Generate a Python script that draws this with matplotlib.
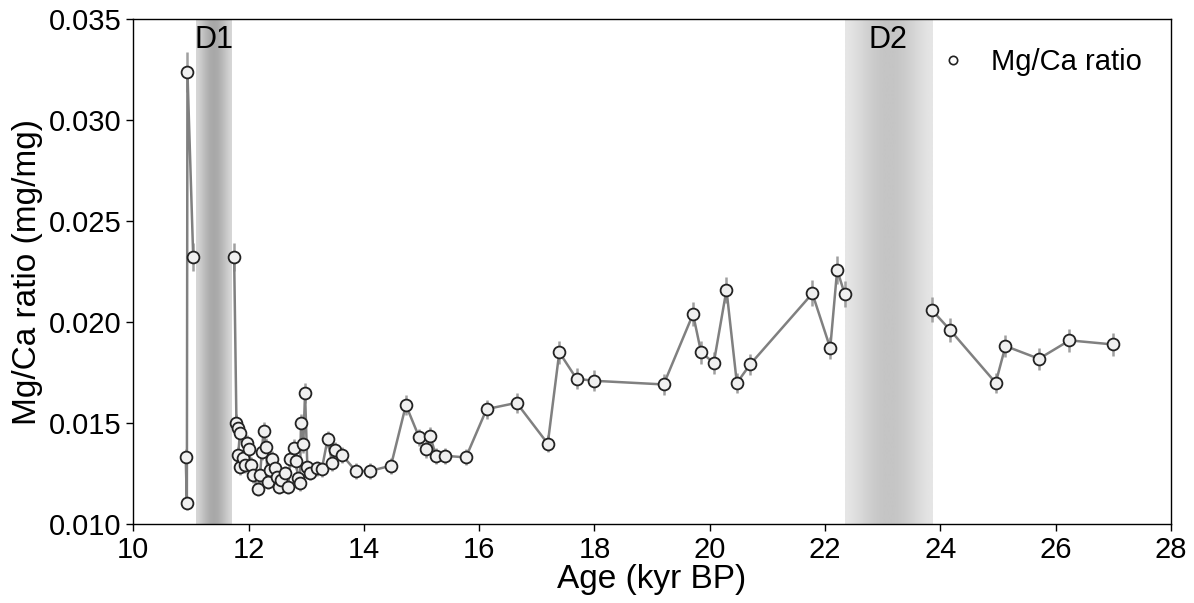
import numpy as np
import matplotlib
matplotlib.use("Agg")
import matplotlib.pyplot as plt
from matplotlib.lines import Line2D

plt.rcParams['font.family'] = ['Liberation Sans', 'DejaVu Sans']

nan = np.nan

# age (kyr BP) and Mg/Ca (mg/mg); nan = gap across the D1 / D2 hiatuses
age = [10.91, 10.93, 10.94, 11.04, nan,
       11.75, 11.79, 11.82, 11.85, 11.82, 11.86, 11.91, 11.94, 11.97, 12.01,
       12.04, 12.08, 12.16, 12.20, 12.23, 12.26, 12.30, 12.34, 12.37, 12.41,
       12.46, 12.49, 12.52, 12.57, 12.64, 12.69, 12.72, 12.78, 12.82, 12.86,
       12.89, 12.91, 12.95, 12.98, 13.02, 13.07, 13.18, 13.27, 13.37, 13.45,
       13.50, 13.62, 13.86, 14.11, 14.47, 14.73, 14.96, 15.07, 15.15, 15.25,
       15.41, 15.77, 16.13, 16.65, 17.19, 17.39, 17.69, 18.00, 19.20, 19.71,
       19.85, 20.07, 20.29, 20.47, 20.70, 21.78, 22.09, 22.21, 22.34, nan,
       23.85, 24.17, 24.96, 25.13, 25.71, 26.24, 26.99]
mgca = [0.01334, 0.01104, 0.03238, 0.02323, nan,
        0.02323, 0.01500, 0.01475, 0.01453, 0.01343, 0.01282, 0.01326, 0.01293, 0.01401, 0.01372,
        0.01293, 0.01244, 0.01173, 0.01244, 0.01359, 0.01461, 0.01384, 0.01211, 0.01269, 0.01321,
        0.01277, 0.01235, 0.01183, 0.01219, 0.01252, 0.01183, 0.01321, 0.01379, 0.01313, 0.01227,
        0.01203, 0.01502, 0.01396, 0.01651, 0.01282, 0.01255, 0.01277, 0.01272, 0.01420, 0.01305,
        0.01367, 0.01343, 0.01264, 0.01264, 0.01290, 0.01590, 0.01430, 0.01371, 0.01438, 0.01339,
        0.01339, 0.01331, 0.01570, 0.01601, 0.01399, 0.01851, 0.01720, 0.01710, 0.01692, 0.02040,
        0.01851, 0.01799, 0.02160, 0.01699, 0.01791, 0.02142, 0.01872, 0.02259, 0.02140, nan,
        0.02061, 0.01961, 0.01700, 0.01882, 0.01819, 0.01910, 0.01890]
rel_err = 0.03  # analytical precision, 3 %

events = ["D1", "D2"]
event_start = [11.09, 22.34]
event_end = [11.71, 23.85]

age = np.array(age)
mgca = np.array(mgca)

fig = plt.figure(figsize=(11.94, 6.03), dpi=100)
ax = fig.add_axes([0.1116, 0.1305, 0.8691, 0.838])

ymin, ymax = 0.010, 0.035

# shaded event bands, darker in the middle
shades = [(0.84, 0.66), (0.90, 0.77)]
for name, x0, x1, (edge, mid) in zip(events, event_start, event_end, shades):
    t = np.linspace(-1, 1, 200)
    prof = edge + (mid - edge) * np.cos(t * np.pi / 2) ** 1.5
    ax.imshow(prof[None, :], cmap='gray', vmin=0, vmax=1, aspect='auto',
              extent=(x0, x1, ymin, ymax), zorder=0, interpolation='bilinear')
    ax.text((x0 + x1) / 2, 0.03395, name, ha='center', va='center', fontsize=22, zorder=5)

ax.errorbar(age, mgca, yerr=rel_err * mgca, fmt='-', color='#808080', lw=1.8,
            ecolor='#a0a0a0', elinewidth=1.8, capsize=0, zorder=2)
ax.plot(age, mgca, 'o', ms=8.5, mfc='#f0f0f0', mec='#222222', mew=1.3, zorder=3)

handle = Line2D([], [], ls='none', marker='o', ms=6, mfc='white', mec='#222222', mew=1.2)
ax.legend([handle], ["Mg/Ca ratio"], loc='upper right', frameon=False, fontsize=21,
          handletextpad=0.3, borderaxespad=0.6)

ax.set_xlim(10, 28)
ax.set_ylim(ymin, ymax)
ax.set_xticks(np.arange(10, 29, 2))
ax.set_yticks(np.arange(0.010, 0.0351, 0.005))
ax.yaxis.set_major_formatter(matplotlib.ticker.FormatStrFormatter('%.3f'))
ax.tick_params(labelsize=21, length=5, width=1, direction='out')
ax.set_xlabel("Age (kyr BP)", fontsize=24, labelpad=0)
ax.set_ylabel("Mg/Ca ratio (mg/mg)", fontsize=24, labelpad=4)
for s in ax.spines.values():
    s.set_linewidth(1)

fig.savefig("out.png", dpi=100)
